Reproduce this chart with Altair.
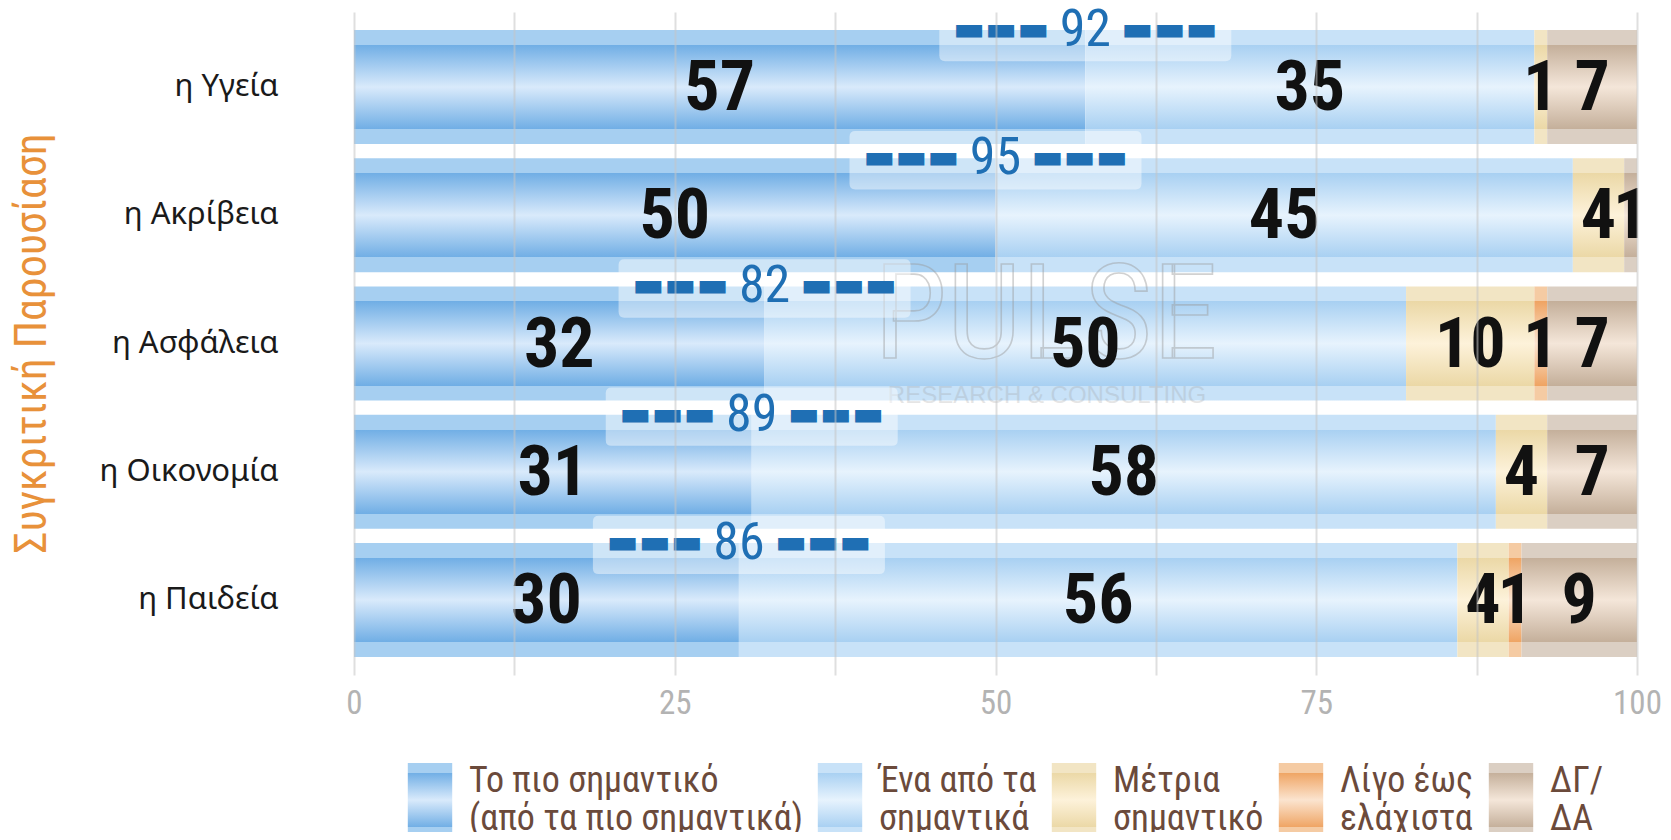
import altair as alt
import pandas as pd

# ---------------- data ----------------
rows = ["η Υγεία", "η Ακρίβεια", "η Ασφάλεια", "η Οικονομία", "η Παιδεία"]
categories = [
    "Το πιο σημαντικό\n(από τα πιο σημαντικά)",
    "Ένα από τα\nσημαντικά",
    "Μέτρια\nσημαντικό",
    "Λίγο έως\nελάχιστα",
    "ΔΓ/\nΔΑ",
]
most_important = [57, 50, 32, 31, 30]
one_of_important = [35, 45, 50, 58, 56]
moderately = [1, 4, 10, 4, 4]
little_to_none = [0, 0, 1, 0, 1]
dk_na = [7, 1, 7, 7, 9]
totals = [92, 95, 82, 89, 86]

series = [most_important, one_of_important, moderately, little_to_none, dk_na]
records = []
for i, r in enumerate(rows):
    start = 0
    for j, c in enumerate(categories):
        v = series[j][i]
        records.append(dict(row=r, cat=c, order=j, value=v,
                            start=start, end=start + v, mid=start + v / 2))
        start += v
df = pd.DataFrame(records)
df = df[df["value"] > 0]

tot = pd.DataFrame({"row": rows, "total": totals, "anchor": most_important})
tot["dash"] = "▬▬▬"

# ---------------- style ----------------
NARROW = "Liberation Sans Narrow, Roboto Condensed, DejaVu Sans Condensed, sans-serif"
SANS = "Noto Sans, Open Sans, DejaVu Sans, sans-serif"

def grad(outer, edge, center):
    return {"expr": (
        "{gradient:'linear',x1:0,y1:0,x2:0,y2:1,stops:["
        f"{{offset:0,color:'{outer}'}},{{offset:0.13,color:'{outer}'}},"
        f"{{offset:0.131,color:'{edge}'}},{{offset:0.5,color:'{center}'}},"
        f"{{offset:0.869,color:'{edge}'}},{{offset:0.87,color:'{outer}'}},"
        f"{{offset:1,color:'{outer}'}}]}}")}

grads = [
    grad("#a6cff1", "#70aee5", "#d9eafb"),
    grad("#c8e2f8", "#a8d0f2", "#e7f3fd"),
    grad("#f2e5c4", "#ebd8a6", "#fdf2da"),
    grad("#f5cba3", "#efa463", "#fbe4cf"),
    grad("#dbcfc3", "#c4af9a", "#f4e6d9"),
]

xscale = alt.Scale(domain=[0, 100], nice=False)
yscale = alt.Scale(paddingInner=0.11, paddingOuter=0.14)

def Y(band=None):
    kw = {}
    if band is not None:
        kw["bandPosition"] = band
    return alt.Y("row:N", sort=rows, scale=yscale, title="Συγκριτική  Παρουσίαση",
                 axis=alt.Axis(domain=False, ticks=False, tickSize=0, grid=False,
                               labelFont=SANS, labelFontSize=31, labelColor="#1a1a1a",
                               labelPadding=76, labelLimit=400,
                               titleFont=NARROW, titleFontSize=44, titleFontWeight="normal",
                               titleColor="#e8913a", titleX=-322, titleY=331,
                               titleAngle=270, titleAlign="center", titleBaseline="middle"),
                 **kw)

xaxis = alt.Axis(values=[0, 12.5, 25, 37.5, 50, 62.5, 75, 87.5, 100],
                 labelExpr="datum.value % 25 === 0 ? datum.label : ''",
                 domain=False, ticks=False, tickSize=0, grid=True,
                 gridColor="#c4c4c4", gridOpacity=0.55, gridWidth=2,
                 labelFont=NARROW, labelFontSize=33, labelColor="#b3b3b3",
                 labelPadding=12, zindex=1, labelFlush=False)

rect_path = "M-0.6,-1H0.6V1H-0.6Z"
box_path = ("M-0.96,-0.2H0.96Q1,-0.2 1,-0.16V0.16Q1,0.2 0.96,0.2"
            "H-0.96Q-1,0.2 -1,0.16V-0.16Q-1,-0.2 -0.96,-0.2Z")

bars = alt.Chart(df).mark_bar(strokeWidth=0).encode(
    x=alt.X("start:Q", scale=xscale, axis=xaxis, title=None),
    x2="end:Q",
    y=Y(),
    color=alt.Color("cat:N", scale=alt.Scale(domain=categories, range=grads),
                    legend=alt.Legend(title=None, orient="none", legendX=39, legendY=751,
                                      direction="horizontal", columns=5,
                                      symbolType=rect_path, symbolSize=5476,
                                      symbolStrokeWidth=0, symbolOpacity=1,
                                      labelFont=NARROW, labelFontSize=36,
                                      labelColor="#6b4a3b", labelOffset=2,
                                      labelBaseline="bottom",
                                      labelLimit=600, columnPadding=0, padding=0,
                                      labelExpr="split(datum.label, '\\n')")),
    order="order:Q",
)

wm = pd.DataFrame({"t": ["PULSE"], "s": ["RESEARCH & CONSULTING"]})
wm1 = alt.Chart(wm).mark_text(font=NARROW, fontSize=132, fillOpacity=0,
                              stroke="#9a9a9a", strokeWidth=1.6, strokeOpacity=0.45,
                              baseline="middle").encode(
    x=alt.value(692), y=alt.value(306), text="t:N")
wm2 = alt.Chart(wm).mark_text(font="Liberation Sans, DejaVu Sans", fontSize=24,
                              color="#9a9a9a", opacity=0.25, baseline="middle").encode(
    x=alt.value(693), y=alt.value(384), text="s:N")

nums = alt.Chart(df).mark_text(font=NARROW, fontWeight="bold", fontSize=70,
                               color="#111111", baseline="middle", dy=2).encode(
    x="mid:Q", y=Y(), text="value:Q")

boxes = alt.Chart(tot).mark_point(shape=box_path, size=85264, filled=True,
                                  fill="white", opacity=0.45, strokeWidth=0).encode(
    x="anchor:Q", y=Y(0), yOffset=alt.value(2))

tot_num = alt.Chart(tot).mark_text(font=NARROW, fontSize=52, color="#1f6fb4",
                                   baseline="middle").encode(
    x="anchor:Q", y=Y(0), text="total:Q")
dash_l = alt.Chart(tot).mark_text(font="DejaVu Sans", fontSize=34, color="#1f6fb4",
                                  baseline="middle", align="right", dx=-36).encode(
    x="anchor:Q", y=Y(0), text="dash:N")
dash_r = alt.Chart(tot).mark_text(font="DejaVu Sans", fontSize=34, color="#1f6fb4",
                                  baseline="middle", align="left", dx=36).encode(
    x="anchor:Q", y=Y(0), text="dash:N")

chart = alt.layer(bars, wm1, wm2, boxes, nums, tot_num, dash_l, dash_r).properties(
    width=1283, height=663,
    autosize=alt.AutoSizeParams(type="none"),
    padding={"left": 346, "top": 4, "right": 26, "bottom": 157},
).configure_view(stroke=None)

chart.save("out.html", embed_options={"renderer": "svg", "actions": False})
